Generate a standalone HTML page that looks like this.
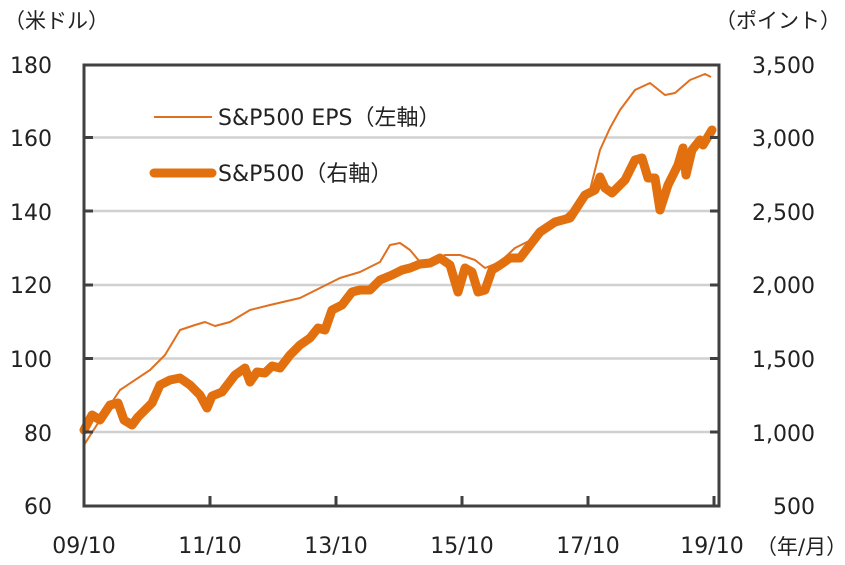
<!DOCTYPE html>
<html><head><meta charset="utf-8"><style>
html,body{margin:0;padding:0;background:#fff;}
svg{display:block;}
text{font-family:"DejaVu Sans","Noto Sans CJK JP",sans-serif;fill:#222;}
</style></head><body>
<svg width="845" height="565" viewBox="0 0 845 565">
<g stroke="#d0d0d0" stroke-width="2.5">
<line x1="84" y1="137.5" x2="719" y2="137.5"/>
<line x1="84" y1="211" x2="719" y2="211"/>
<line x1="84" y1="285" x2="719" y2="285"/>
<line x1="84" y1="358.5" x2="719" y2="358.5"/>
<line x1="84" y1="432" x2="719" y2="432"/>
</g>
<polyline fill="none" stroke="#E07020" stroke-width="2" stroke-linejoin="round" points="84,445 100,420 120,390 150,370 165,355 180,330 195,325 205,322 215,326 230,322 250,310 270,305 300,298 320,288 340,278 360,272 380,262 390,245 400,243 410,250 420,262 430,262 445,255 460,255 475,260 485,268 500,262 515,248 535,238 555,225 575,207 590,190 600,150 610,128 620,110 635,90 650,83 665,95 675,93 690,80 705,74 711,77"/>
<polyline fill="none" stroke="#E2700F" stroke-width="9" stroke-linejoin="round" stroke-linecap="round" points="84,430 92,415 100,420 110,405 118,403 124,420 132,425 138,417 145,410 152,403 160,385 170,380 180,378 190,385 200,395 207,408 212,396 222,392 235,375 245,368 250,382 257,372 265,373 272,366 280,368 290,355 300,345 310,338 318,328 325,330 332,310 342,305 352,292 360,290 370,290 380,280 392,275 402,270 410,268 420,264 430,263 440,258 450,265 458,292 465,268 472,272 478,292 485,290 492,270 500,265 510,258 520,258 530,245 540,232 555,222 570,218 585,195 595,190 600,177 605,188 612,193 625,180 635,160 642,158 648,178 655,178 660,210 668,185 678,165 683,148 686,175 692,150 700,140 703,145 712,130"/>
<rect x="84" y="65" width="635" height="441" fill="none" stroke="#404040" stroke-width="3"/>
<g stroke="#404040" stroke-width="3">
<line x1="84" y1="137.5" x2="93" y2="137.5"/><line x1="84" y1="211" x2="93" y2="211"/><line x1="84" y1="285" x2="93" y2="285"/><line x1="84" y1="358.5" x2="93" y2="358.5"/><line x1="84" y1="432" x2="93" y2="432"/>
<line x1="710" y1="137.5" x2="719" y2="137.5"/><line x1="710" y1="211" x2="719" y2="211"/><line x1="710" y1="285" x2="719" y2="285"/><line x1="710" y1="358.5" x2="719" y2="358.5"/><line x1="710" y1="432" x2="719" y2="432"/>
<line x1="210" y1="506" x2="210" y2="496"/><line x1="336" y1="506" x2="336" y2="496"/><line x1="462" y1="506" x2="462" y2="496"/><line x1="588" y1="506" x2="588" y2="496"/><line x1="714" y1="506" x2="714" y2="496"/>
</g>
<line x1="154" y1="117" x2="212" y2="117" stroke="#E07020" stroke-width="2"/>
<text x="218" y="125" font-size="22">S&amp;P500 EPS（左軸）</text>
<line x1="154" y1="173" x2="212" y2="173" stroke="#E2700F" stroke-width="9" stroke-linecap="round"/>
<text x="218" y="181" font-size="22">S&amp;P500（右軸）</text>
<g font-size="22" text-anchor="end">
<text x="52" y="73">180</text><text x="52" y="146">160</text><text x="52" y="220">140</text><text x="52" y="293">120</text><text x="52" y="367">100</text><text x="52" y="441">80</text><text x="52" y="514">60</text>
</g>
<g font-size="22" text-anchor="end">
<text x="815" y="73">3,500</text><text x="815" y="146">3,000</text><text x="815" y="220">2,500</text><text x="815" y="293">2,000</text><text x="815" y="367">1,500</text><text x="815" y="441">1,000</text><text x="815" y="514">500</text>
</g>
<g font-size="22" text-anchor="middle">
<text x="84" y="553">09/10</text><text x="210" y="553">11/10</text><text x="336" y="553">13/10</text><text x="462" y="553">15/10</text><text x="588" y="553">17/10</text><text x="712" y="553">19/10</text>
</g>
<text x="4" y="28" font-size="21">（米ドル）</text>
<text x="715" y="28" font-size="21">（ポイント）</text>
<text x="756" y="554" font-size="21">（年/月）</text>
</svg>
</body></html>
